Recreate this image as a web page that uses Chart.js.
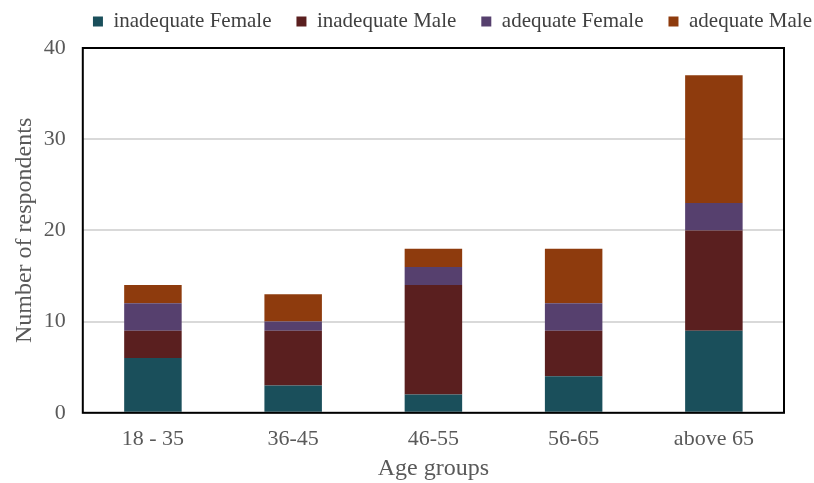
<!DOCTYPE html>
<html>
<head>
<meta charset="utf-8">
<script src="https://cdn.jsdelivr.net/npm/chart.js"></script>
<style>
  html, body { margin: 0; padding: 0; background: #fff; }
  #wrap { width: 814px; height: 483px; }
</style>
</head>
<body>
<div id="wrap"><canvas id="chart"></canvas></div>
<script>
// 데이터
const ageGroups = ['18 - 35', '36-45', '46-55', '56-65', 'above 65'];
const inadequateFemale = [6, 3, 2, 4, 9];
const inadequateMale = [3, 6, 12, 5, 11];
const adequateFemale = [3, 1, 2, 3, 3];
const adequateMale = [2, 3, 2, 6, 14];
const yTicks = [0, 10, 20, 30, 40];

// 플롯 영역 테두리
const frameBox = {
  id: 'frameBox',
  afterDraw(chart) {
    const a = chart.chartArea;
    const ctx = chart.ctx;
    ctx.save();
    ctx.strokeStyle = '#000';
    ctx.lineWidth = 2;
    ctx.strokeRect(a.left, a.top, a.right - a.left, a.bottom - a.top);
    ctx.restore();
  }
};

// 범례 높이 줄이고 위치 옮기기 (가로 간격은 유지)
const legendHeight = {
  id: 'legendHeight',
  beforeLayout(chart) {
    const lg = chart.legend;
    if (lg && !lg._patched) {
      const fit = lg.fit;
      const draw = lg.draw;
      lg.fit = function () {
        fit.call(this);
        this.height = 48;
      };
      lg.draw = function (area) {
        const t = this.top, l = this.left, r = this.right;
        this.top = t - 14;
        this.left = l + 53;
        this.right = r + 53;
        draw.call(this, area);
        this.top = t;
        this.left = l;
        this.right = r;
      };
      lg._patched = true;
    }
  }
};

Chart.defaults.font.family = '"Liberation Serif", "Times New Roman", serif';
Chart.defaults.color = '#595959';

new Chart(document.getElementById('chart'), {
  type: 'bar',
  data: {
    labels: ageGroups,
    datasets: [
      { label: 'inadequate Female', data: inadequateFemale, backgroundColor: '#1a4f5b' },
      { label: 'inadequate Male', data: inadequateMale, backgroundColor: '#5a1f1f' },
      { label: 'adequate Female', data: adequateFemale, backgroundColor: '#56406e' },
      { label: 'adequate Male', data: adequateMale, backgroundColor: '#8e3b0d' }
    ]
  },
  options: {
    responsive: true,
    maintainAspectRatio: false,
    animation: false,
    layout: { padding: { left: 10, right: 30, top: 0, bottom: 0 } },
    datasets: { bar: { barPercentage: 0.41, categoryPercentage: 1 } },
    plugins: {
      legend: {
        position: 'top',
        align: 'end',
        labels: {
          boxWidth: 10,
          boxHeight: 10,
          padding: 25,
          color: '#404040',
          font: { size: 21 }
        }
      },
      tooltip: { enabled: false }
    },
    scales: {
      x: {
        stacked: true,
        grid: { display: false },
        border: { display: false },
        ticks: { font: { size: 22 }, padding: 5 },
        title: { display: true, text: 'Age groups', font: { size: 24 }, padding: { top: -3, bottom: 0 } }
      },
      y: {
        stacked: true,
        min: 0,
        max: 40,
        afterBuildTicks(axis) { axis.ticks = yTicks.map(v => ({ value: v })); },
        grid: { color: '#d9d9d9', lineWidth: 2, drawTicks: false },
        border: { display: false },
        ticks: { font: { size: 22 }, padding: 17 },
        title: { display: true, text: 'Number of respondents', font: { size: 24 }, padding: { top: 0, bottom: -12 } }
      }
    }
  },
  plugins: [frameBox, legendHeight]
});
</script>
</body>
</html>
